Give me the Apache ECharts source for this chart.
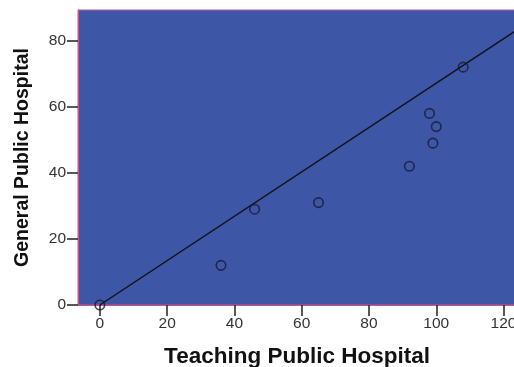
<!DOCTYPE html>
<html>
<head>
<meta charset="utf-8">
<script src="https://cdn.jsdelivr.net/npm/echarts@6/dist/echarts.min.js"></script>
<style>html,body{margin:0;padding:0;background:#fff;}#c{width:514px;height:367px;}</style>
</head>
<body>
<div id="c"></div>
<script>
// Data
const teaching = [0, 36, 46, 65, 92, 98, 99, 100, 108];
const general  = [0, 12, 29, 31, 42, 58, 49, 54, 72];
const fitX = [0, 124];
const fitY = [0, 83.3];
const xTicks = [0, 20, 40, 60, 80, 100, 120];
const yTicks = [0, 20, 40, 60, 80];

const chart = echarts.init(document.getElementById('c'), null, {renderer: 'canvas'});
const labelStyle = {color: '#333', fontFamily: 'Liberation Sans', fontSize: 15.5};
chart.setOption({
  animation: false,
  grid: {left: 78, top: 10, right: -2, bottom: 62, containLabel: false, outerBoundsMode: 'none',
         show: true, backgroundColor: '#3e56a6', borderColor: '#c0559a', borderWidth: 1},
  xAxis: {
    type: 'value', min: -6.5, max: 123.7,
    splitLine: {show: false},
    axisLine: {show: true, onZero: false, lineStyle: {color: '#c0559a', width: 1}},
    axisTick: {show: true, length: 11, customValues: xTicks, lineStyle: {color: '#222', width: 1.5}},
    axisLabel: Object.assign({margin: 11, customValues: xTicks}, labelStyle),
    name: 'Teaching Public Hospital', nameLocation: 'middle', nameGap: 40,
    nameTextStyle: {fontFamily: 'Liberation Sans', fontWeight: 'bold', fontSize: 22.5, color: '#111'}
  },
  yAxis: {
    type: 'value', min: 0, max: 89.3,
    splitLine: {show: false},
    axisLine: {show: true, onZero: false, lineStyle: {color: '#c0559a', width: 1}},
    axisTick: {show: true, length: 11, customValues: yTicks, lineStyle: {color: '#222', width: 1.5}},
    axisLabel: Object.assign({margin: 12, customValues: yTicks}, labelStyle),
    name: 'General Public Hospital', nameLocation: 'middle', nameGap: 45,
    nameTextStyle: {fontFamily: 'Liberation Sans', fontWeight: 'bold', fontSize: 19.5, color: '#111'}
  },
  series: [
    {
      type: 'line', data: fitX.map((x, i) => [x, fitY[i]]), showSymbol: false, clip: true,
      lineStyle: {color: '#111', width: 1.4}, z: 2
    },
    {
      type: 'scatter', data: teaching.map((x, i) => [x, general[i]]),
      symbol: 'circle', symbolSize: 9.5,
      itemStyle: {color: 'rgba(0,0,0,0)', borderColor: '#161a33', borderWidth: 1.6}, z: 3
    }
  ]
});
</script>
</body>
</html>
